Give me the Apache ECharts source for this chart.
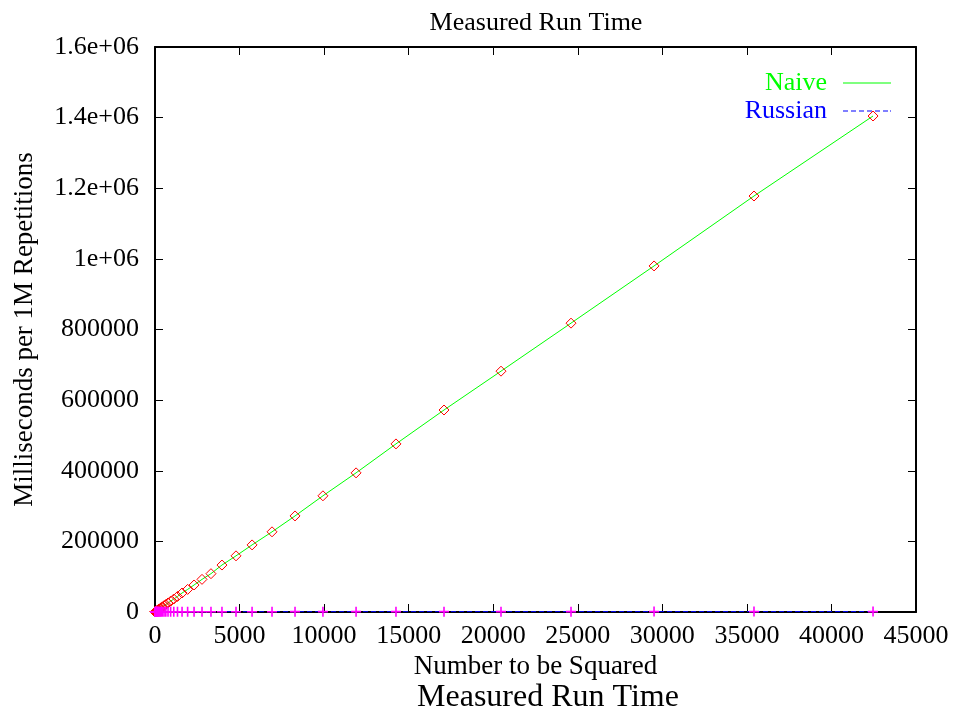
<!DOCTYPE html>
<html>
<head>
<meta charset="utf-8">
<title>Measured Run Time</title>
<script src="https://cdn.jsdelivr.net/npm/echarts@6/dist/echarts.min.js"></script>
<style>
  html, body { margin: 0; padding: 0; background: #fff; }
  #chart { width: 953px; height: 713px; }
</style>
</head>
<body>
<div id="chart"></div>
<script>
// x: number to be squared
var xValues = [1, 2, 3, 4, 5, 6, 7, 8, 10, 12, 14, 17, 20, 24, 29, 35, 41, 50, 60, 72,
    86, 103, 124, 149, 179, 215, 258, 310, 370, 445, 535, 640, 770, 925, 1110, 1330,
    1600, 1930, 2310, 2780, 3310, 3960, 4790, 5740, 6920, 8280, 9930, 11890, 14250,
    17090, 20460, 24600, 29510, 35420, 42460];
// milliseconds per 1M repetitions
var naiveMs = [35, 70, 100, 130, 165, 200, 230, 265, 330, 400, 460, 560, 660, 800, 960,
    1160, 1360, 1650, 1980, 2380, 2850, 3400, 4100, 4900, 5900, 7100, 8500, 10200, 12200,
    14700, 17700, 21200, 25500, 30600, 36700, 44000, 53800, 64000, 76500, 92400, 108500,
    133000, 159000, 190000, 227000, 272000, 329000, 394000, 476000, 572000, 682000,
    818000, 980000, 1178000, 1404600];
var russianMs = [120, 150, 170, 190, 200, 210, 220, 230, 250, 260, 270, 290, 300, 320,
    330, 350, 360, 380, 400, 410, 440, 450, 480, 500, 520, 530, 560, 580, 590, 620, 640,
    650, 680, 700, 710, 740, 760, 770, 800, 820, 830, 860, 880, 890, 920, 940, 950, 980,
    1000, 1010, 1040, 1060, 1070, 1100, 1120];
var xTickLabels = ['0', '5000', '10000', '15000', '20000', '25000', '30000', '35000', '40000', '45000'];
var yTickLabels = ['0', '200000', '400000', '600000', '800000', '1e+06', '1.2e+06', '1.4e+06', '1.6e+06'];

var FONT = '"Liberation Serif", "Times New Roman", serif';

function zip(xs, ys) {
    var out = [];
    for (var i = 0; i < xs.length; i++) out.push([xs[i], ys[i]]);
    return out;
}

var chart = echarts.init(document.getElementById('chart'), null, {renderer: 'canvas'});

var axisLine = {show: true, onZero: false, lineStyle: {color: '#000', width: 2}};
var tick = {show: true, inside: true, length: 8, lineStyle: {color: '#000', width: 1}};
var plusIcon = 'path://M4.2,0h1.6v4.2h4.2v1.6h-4.2v4.2h-1.6v-4.2h-4.2v-1.6h4.2z';
var solidIcon = 'path://M0,0h48v1.2h-48z';
var dashIcon = 'path://M0,0h5v1.2h-5z M8,0h5v1.2h-5z M16,0h5v1.2h-5z M24,0h5v1.2h-5z M32,0h5v1.2h-5z M40,0h5v1.2h-5z M47,0h1v1.2h-1z';

var option = {
    animation: false,
    backgroundColor: '#fff',
    textStyle: {fontFamily: FONT},
    title: [{
        text: 'Measured Run Time',
        left: 531, top: 5, textAlign: 'center',
        textStyle: {fontFamily: FONT, fontSize: 26, fontWeight: 'normal', color: '#000'}
    }, {
        text: 'Measured Run Time',
        left: 543, top: 677, textAlign: 'center',
        textStyle: {fontFamily: FONT, fontSize: 32, fontWeight: 'normal', color: '#000'}
    }],
    legend: [{
        data: [{name: 'Naive', icon: solidIcon, itemStyle: {color: '#00ff00', borderWidth: 0}}],
        orient: 'vertical', align: 'right',
        right: 57, top: 65,
        itemWidth: 48, itemHeight: 14,
        textStyle: {fontFamily: FONT, fontSize: 26, color: '#00ff00', padding: [0, 11, 0, 0]}
    }, {
        data: [{name: 'Russian', icon: dashIcon, itemStyle: {color: '#0000ff', borderWidth: 0}}],
        orient: 'vertical', align: 'right',
        right: 57, top: 93,
        itemWidth: 48, itemHeight: 14,
        textStyle: {fontFamily: FONT, fontSize: 26, color: '#0000ff', padding: [0, 11, 0, 0]}
    }],
    grid: {left: 155, right: 37, top: 47, bottom: 101, show: false},
    xAxis: [{
        type: 'value', min: 0, max: 45000, interval: 5000,
        position: 'bottom',
        name: 'Number to be Squared', nameLocation: 'middle', nameGap: 39,
        nameTextStyle: {fontFamily: FONT, fontSize: 27, color: '#000'},
        axisLine: axisLine, axisTick: tick,
        axisLabel: {
            fontFamily: FONT, fontSize: 26, color: '#000', margin: 11,
            formatter: function (v) { return xTickLabels[Math.round(v / 5000)]; }
        },
        splitLine: {show: false}
    }, {
        type: 'value', min: 0, max: 45000, interval: 5000,
        position: 'top',
        axisLine: axisLine, axisTick: tick,
        axisLabel: {show: false}, splitLine: {show: false}
    }],
    yAxis: [{
        type: 'value', min: 0, max: 1600000, interval: 200000,
        position: 'left',
        name: 'Milliseconds per 1M Repetitions', nameLocation: 'middle', nameGap: 117,
        nameTextStyle: {fontFamily: FONT, fontSize: 27, color: '#000'},
        axisLine: axisLine, axisTick: tick,
        axisLabel: {
            fontFamily: FONT, fontSize: 26, color: '#000', margin: 16,
            formatter: function (v) { return yTickLabels[Math.round(v / 200000)]; }
        },
        splitLine: {show: false}
    }, {
        type: 'value', min: 0, max: 1600000, interval: 200000,
        position: 'right',
        axisLine: axisLine, axisTick: tick,
        axisLabel: {show: false}, splitLine: {show: false}
    }],
    series: [{
        name: 'Naive',
        type: 'line',
        data: zip(xValues, naiveMs),
        symbol: 'diamond',
        symbolSize: 10,
        showAllSymbol: true,
        itemStyle: {color: 'rgba(0,0,0,0)', borderColor: '#ff0000', borderWidth: 1},
        lineStyle: {color: '#00ff00', width: 1},
        z: 3
    }, {
        name: 'Russian',
        type: 'line',
        data: zip(xValues, russianMs),
        symbol: plusIcon,
        symbolSize: 10,
        showAllSymbol: true,
        itemStyle: {color: '#ff00ff'},
        lineStyle: {color: '#0000ff', width: 1, type: [5, 3]},
        z: 4
    }]
};

chart.setOption(option);
</script>
</body>
</html>
